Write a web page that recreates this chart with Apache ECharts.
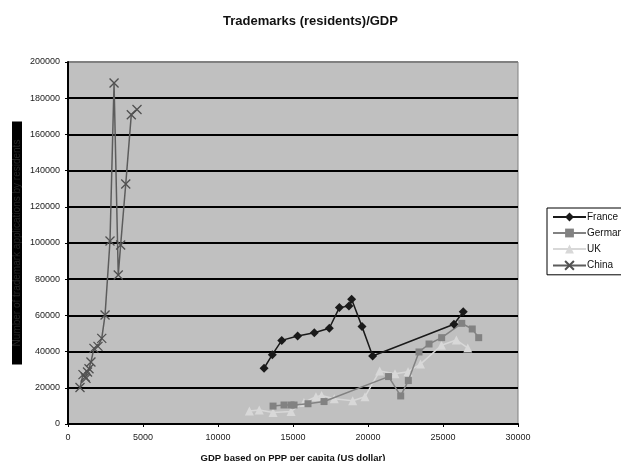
<!DOCTYPE html>
<html>
<head>
<meta charset="utf-8">
<script src="https://cdn.jsdelivr.net/npm/echarts@6/dist/echarts.min.js"></script>
<style>
  html, body { margin: 0; padding: 0; background: #fff; }
  #chart { width: 621px; height: 461px; }
</style>
</head>
<body>
<div id="chart"></div>
<script>
// GDP per capita (PPP, US$) against resident trademark counts, per country
const franceGdp = [13070, 13620, 14250, 15310, 16420, 17420, 18090, 18730, 18910, 19600, 20310, 25730, 26350];
const franceTm  = [30800, 38300, 46200, 48600, 50400, 52900, 64300, 65200, 68900, 53800, 37600, 55100, 62000];

const germanGdp = [13670, 14400, 14870, 15070, 16000, 17070, 21370, 22180, 22690, 23400, 24070, 24910, 26250, 26950, 27380];
const germanTm  = [9900, 10500, 10500, 10500, 11200, 12400, 26200, 15500, 24000, 39800, 44200, 47700, 55600, 52500, 47700];

const ukGdp = [12090, 12750, 13670, 14870, 15730, 16530, 16910, 17750, 18980, 19800, 20780, 21800, 22670, 23500, 24900, 25890, 26650];
const ukTm  = [7200, 7700, 6400, 6900, 11900, 15100, 15700, 13900, 12800, 15100, 29300, 27800, 28900, 33100, 43500, 46400, 42000];

const chinaGdp = [800, 1000, 1150, 1200, 1300, 1400, 1530, 1730, 2000, 2250, 2470, 2800, 3070, 3350, 3510, 3850, 4220, 4600];
const chinaTm  = [20200, 27300, 26000, 25200, 28700, 30500, 34300, 41800, 42900, 47300, 60200, 101100, 188400, 82300, 98900, 132600, 170900, 173800];

const xTicks = { min: 0, max: 30000, step: 5000 };
const yTicks = { min: 0, max: 200000, step: 20000 };

const pairs = (xs, ys) => xs.map((x, i) => [x, ys[i]]);
const plain = v => String(v);

const chart = echarts.init(document.getElementById('chart'), null, { renderer: 'canvas' });

const gridLineColors = [];
for (let v = yTicks.min; v <= yTicks.max; v += yTicks.step) {
  gridLineColors.push(v === yTicks.max ? '#808080' : '#000000');
}

chart.setOption({
  animation: false,
  backgroundColor: '#ffffff',
  textStyle: { fontFamily: 'Liberation Sans, Arial, sans-serif' },
  title: {
    text: 'Trademarks (residents)/GDP',
    left: 'center',
    top: 10,
    textStyle: { fontSize: 13, fontWeight: 'bold', color: '#111' }
  },
  legend: {
    orient: 'vertical',
    left: 547,
    top: 208,
    padding: [4, 6, 4, 5],
    itemGap: 6,
    itemWidth: 33,
    itemHeight: 11,
    borderColor: '#000',
    borderWidth: 1,
    backgroundColor: '#fff',
    borderRadius: 0,
    textStyle: { fontSize: 10, color: '#111', padding: [0, 0, 0, -4] },
    data: ['France', 'German', 'UK', 'China']
  },
  grid: {
    left: 68, right: 103, top: 62, bottom: 37,
    outerBoundsMode: 'none',
    show: true,
    backgroundColor: '#c0c0c0',
    borderColor: '#808080',
    borderWidth: 1
  },
  xAxis: {
    type: 'value',
    min: xTicks.min, max: xTicks.max, interval: xTicks.step,
    name: 'GDP based on PPP per capita (US dollar)',
    nameLocation: 'middle',
    nameGap: 29,
    nameTextStyle: { fontSize: 9.5, fontWeight: 'bold', color: '#111', letterSpacing: 1 },
    axisLine: { show: true, lineStyle: { color: '#000', width: 2 } },
    axisTick: { show: true, length: 3, lineStyle: { color: '#000', width: 1 } },
    axisLabel: { fontSize: 9, color: '#222', margin: 9, formatter: plain },
    splitLine: { show: false }
  },
  yAxis: {
    type: 'value',
    min: yTicks.min, max: yTicks.max, interval: yTicks.step,
    name: 'Number of trademark applications by residents',
    nameLocation: 'middle',
    nameGap: 46,
    nameMoveOverlap: false,
    nameRotate: 90,
    nameTextStyle: {
      fontSize: 10, color: '#262626', backgroundColor: '#000',
      padding: [0, 18, 0, 18], letterSpacing: 1.3
    },
    axisLine: { show: true, lineStyle: { color: '#000', width: 2 } },
    axisTick: { show: true, length: 3, lineStyle: { color: '#000', width: 1 } },
    axisLabel: { fontSize: 9, color: '#222', margin: 8, formatter: plain },
    splitLine: { show: true, lineStyle: { color: gridLineColors, width: 2 } }
  },
  series: [
    {
      name: 'France', type: 'line',
      data: pairs(franceGdp, franceTm),
      symbol: 'diamond', symbolSize: 9,
      lineStyle: { color: '#1a1a1a', width: 1.5 },
      itemStyle: { color: '#1a1a1a' },
      z: 4
    },
    {
      name: 'German', type: 'line',
      data: pairs(germanGdp, germanTm),
      symbol: 'rect', symbolSize: 7,
      lineStyle: { color: '#828282', width: 1.5 },
      itemStyle: { color: '#828282' },
      z: 3
    },
    {
      name: 'UK', type: 'line',
      data: pairs(ukGdp, ukTm),
      symbol: 'triangle', symbolSize: 9,
      lineStyle: { color: '#d8d8d8', width: 1.5 },
      itemStyle: { color: '#d8d8d8' },
      z: 2
    },
    {
      name: 'China', type: 'line',
      data: pairs(chinaGdp, chinaTm),
      symbol: 'path://M0,0 L10,10 M10,0 L0,10', symbolSize: 9,
      lineStyle: { color: '#5c5c5c', width: 1.5 },
      itemStyle: { color: 'rgba(0,0,0,0)', borderColor: '#505050', borderWidth: 1.3 },
      z: 5
    }
  ]
});
</script>
</body>
</html>
